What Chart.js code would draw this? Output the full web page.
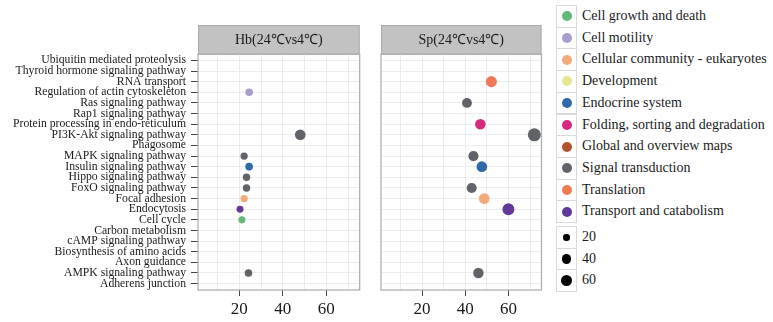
<!DOCTYPE html>
<html>
<head>
<meta charset="utf-8">
<script src="https://cdn.jsdelivr.net/npm/chart.js@4.4.0/dist/chart.umd.min.js"></script>
<style>
  html, body { margin: 0; padding: 0; background: #ffffff; }
  #wrap { position: relative; width: 773px; height: 322px; overflow: hidden; font-family: 'Liberation Serif', 'Times New Roman', serif; }
  canvas { position: absolute; top: 0; }
  #c1 { left: 0; }
  #c2 { left: 365px; }
  .lg { position: absolute; left: 556px; }
  .key { position: absolute; left: 0; width: 21px; border: 1px solid #d9d9d9; box-sizing: border-box; background: #fff; }
  .dot { position: absolute; border-radius: 50%; }
  .lbl { position: absolute; left: 26px; white-space: nowrap; font-family: 'Liberation Serif', serif; font-size: 14px; color: #1a1a1a; }
</style>
</head>
<body>
<div id="wrap">
  <canvas id="c1" width="365" height="322"></canvas>
  <canvas id="c2" width="183" height="322"></canvas>
  <div id="legend"></div>
</div>
<script>
// ---------------- DATA ----------------
const pathways = [
  'Ubiquitin mediated proteolysis',
  'Thyroid hormone signaling pathway',
  'RNA transport',
  'Regulation of actin cytoskeleton',
  'Ras signaling pathway',
  'Rap1 signaling pathway',
  'Protein processing in endo-reticulum',
  'PI3K-Akt signaling pathway',
  'Phagosome',
  'MAPK signaling pathway',
  'Insulin signaling pathway',
  'Hippo signaling pathway',
  'FoxO signaling pathway',
  'Focal adhesion',
  'Endocytosis',
  'Cell cycle',
  'Carbon metabolism',
  'cAMP signaling pathway',
  'Biosynthesis of amino acids',
  'Axon guidance',
  'AMPK signaling pathway',
  'Adherens junction'
];

const classes = [
  'Cell growth and death',
  'Cell motility',
  'Cellular community - eukaryotes',
  'Development',
  'Endocrine system',
  'Folding, sorting and degradation',
  'Global and overview maps',
  'Signal transduction',
  'Translation',
  'Transport and catabolism'
];
const classColors = [
  '#63b977', '#a99cce', '#f3aa7b', '#e6e693', '#2f69a9',
  '#d52a7d', '#b1532b', '#606367', '#ef7b56', '#62399b'
];

const panelTitles = ['Hb(24℃vs4℃)', 'Sp(24℃vs4℃)'];

const hbPathways = [
  'Regulation of actin cytoskeleton', 'PI3K-Akt signaling pathway', 'MAPK signaling pathway',
  'Insulin signaling pathway', 'Hippo signaling pathway', 'FoxO signaling pathway',
  'Focal adhesion', 'Endocytosis', 'Cell cycle', 'AMPK signaling pathway'
];
const hbValues = [24.5, 48, 22.2, 24.5, 23.3, 23.3, 22.2, 20.3, 21.2, 24.2];
const hbClasses = [
  'Cell motility', 'Signal transduction', 'Signal transduction',
  'Endocrine system', 'Signal transduction', 'Signal transduction',
  'Cellular community - eukaryotes', 'Transport and catabolism', 'Cell growth and death', 'Signal transduction'
];

const spPathways = [
  'RNA transport', 'Ras signaling pathway', 'Protein processing in endo-reticulum',
  'PI3K-Akt signaling pathway', 'MAPK signaling pathway', 'Insulin signaling pathway',
  'FoxO signaling pathway', 'Focal adhesion', 'Endocytosis', 'AMPK signaling pathway'
];
const spValues = [52.1, 40.8, 47, 72, 43.8, 47.7, 43, 48.8, 60, 46.1];
const spClasses = [
  'Translation', 'Signal transduction', 'Folding, sorting and degradation',
  'Signal transduction', 'Signal transduction', 'Endocrine system',
  'Signal transduction', 'Cellular community - eukaryotes', 'Transport and catabolism', 'Signal transduction'
];

const xGridTicks = [10, 20, 30, 40, 50, 60, 70];
const xLabelTicks = [20, 40, 60];
const sizeBreaks = [20, 40, 60];

// ---------------- HELPERS ----------------
const FONT = "'Liberation Serif', 'Times New Roman', serif";
const radiusOf = v => 0.77 * Math.sqrt(v);

function buildDatasets(pw, vals, cls) {
  return classes.map((c, ci) => {
    const pts = [];
    pw.forEach((p, i) => {
      if (cls[i] === c) pts.push({ x: vals[i], y: pathways.indexOf(p), r: radiusOf(vals[i]) });
    });
    return {
      label: c,
      data: pts,
      backgroundColor: classColors[ci],
      borderColor: classColors[ci],
      borderWidth: 0,
      hoverRadius: 0
    };
  }).filter(d => d.data.length);
}

const panelPlugin = {
  id: 'panel',
  beforeDraw(chart) {
    const t = chart.titleBlock;
    const a = chart.chartArea;
    const ctx = chart.ctx;
    ctx.save();
    ctx.fillStyle = '#c2c2c2';
    ctx.fillRect(a.left, t.top, a.right - a.left, a.top - t.top);
    ctx.strokeStyle = '#ababab';
    ctx.lineWidth = 1;
    ctx.strokeRect(a.left + 0.5, t.top + 0.5, a.right - a.left - 1, a.top - t.top);
    ctx.restore();
  },
  afterDatasetsDraw(chart) {
    const a = chart.chartArea;
    const ctx = chart.ctx;
    ctx.save();
    ctx.strokeStyle = '#b0b0b0';
    ctx.lineWidth = 1.3;
    ctx.strokeRect(a.left, a.top, a.right - a.left, a.bottom - a.top);
    ctx.restore();
  }
};

function makeChart(id, title, datasets, showY, padLeft, padRight) {
  return new Chart(document.getElementById(id), {
    type: 'bubble',
    data: { datasets },
    plugins: [panelPlugin],
    options: {
      responsive: false,
      animation: false,
      devicePixelRatio: 1,
      layout: { padding: { top: 25, left: padLeft, right: padRight, bottom: 0 } },
      plugins: {
        legend: { display: false },
        tooltip: { enabled: false },
        title: {
          display: true,
          text: title,
          fullSize: false,
          color: '#1a1a1a',
          font: { family: FONT, size: 14, weight: 'normal', lineHeight: 1.5 },
          padding: { top: 5, bottom: 3 }
        }
      },
      scales: {
        x: {
          type: 'linear',
          min: 1,
          max: 75.3,
          afterBuildTicks: s => { s.ticks = xGridTicks.map(v => ({ value: v })); },
          afterFit: s => { s.height = 32; },
          border: { display: false },
          grid: {
            color: '#ececec',
            lineWidth: 1,
            drawTicks: true,
            tickLength: 6,
            tickWidth: 1,
            tickColor: ctx => (ctx.tick && xLabelTicks.includes(ctx.tick.value)) ? '#444' : 'rgba(0,0,0,0)'
          },
          ticks: {
            autoSkip: false,
            maxRotation: 0,
            padding: 3,
            color: '#1a1a1a',
            font: { family: FONT, size: 17 },
            callback: v => xLabelTicks.includes(v) ? String(v) : ''
          }
        },
        y: {
          type: 'linear',
          reverse: true,
          min: -0.6,
          max: pathways.length - 1 + 0.6,
          afterBuildTicks: s => { s.ticks = pathways.map((p, i) => ({ value: i })); },
          afterFit: s => { s.width = showY ? 198 : 0; },
          border: { display: false },
          grid: {
            color: '#ececec',
            lineWidth: 1,
            drawTicks: showY,
            tickLength: 7,
            tickColor: '#444'
          },
          ticks: {
            display: showY,
            autoSkip: false,
            padding: 5,
            color: '#1a1a1a',
            font: { family: FONT, size: 11.7 },
            callback: v => pathways[v]
          }
        }
      }
    }
  });
}

makeChart('c1', panelTitles[0], buildDatasets(hbPathways, hbValues, hbClasses), true, 0, 2);
makeChart('c2', panelTitles[1], buildDatasets(spPathways, spValues, spClasses), false, 16, 3);

// ---------------- LEGEND ----------------
const legend = document.getElementById('legend');
const rowH = 21.7;
function addRow(top, color, r, text) {
  const row = document.createElement('div');
  row.className = 'lg';
  row.style.top = top + 'px';
  row.style.height = rowH + 'px';
  const key = document.createElement('div');
  key.className = 'key';
  key.style.top = '0px';
  key.style.height = (rowH + 1) + 'px';
  const dot = document.createElement('div');
  dot.className = 'dot';
  dot.style.width = (2 * r) + 'px';
  dot.style.height = (2 * r) + 'px';
  dot.style.left = (9.5 - r) + 'px';
  dot.style.top = (rowH / 2 - 0.5 - r) + 'px';
  dot.style.background = color;
  key.appendChild(dot);
  const lbl = document.createElement('div');
  lbl.className = 'lbl';
  lbl.style.top = '0px';
  lbl.style.lineHeight = rowH + 'px';
  lbl.textContent = text;
  row.appendChild(key);
  row.appendChild(lbl);
  legend.appendChild(row);
}
classes.forEach((c, i) => addRow(5 + i * rowH, classColors[i], 5, c));
sizeBreaks.forEach((s, i) => addRow(226 + i * rowH, '#000000', radiusOf(s) * 0.95, String(s)));
</script>
</body>
</html>
